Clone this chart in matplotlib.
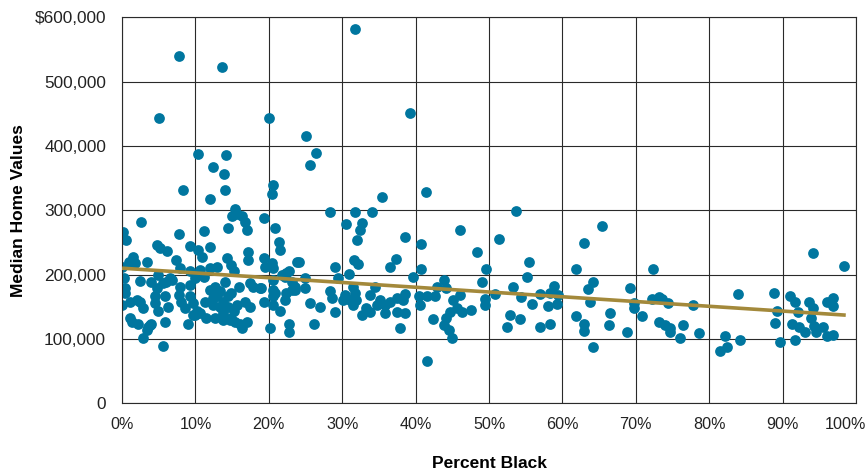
import matplotlib.pyplot as plt
import matplotlib.transforms as mtransforms

# share of Black residents (%) and median home value ($) per tract
pct_black = [
    7.8, 13.6, 5.0, 20.0, 10.3, 14.2, 12.4, 13.9, 8.3, 14.0, 20.5, 20.4, 12.0,
    15.4, 15.0, 15.6, 16.3, 16.8, 17.0, 14.5, 19.3, 20.8, 21.4, 21.5, 2.6, 0.1,
    0.5, 7.8, 11.2, 12.0, 9.3, 10.4, 10.9, 4.7, 5.2, 6.1, 17.1, 17.1, 14.3, 14.8,
    15.2, 7.4, 7.9, 19.3, 19.5, 20.4, 20.6, 23.8, 1.5, 1.8, 0.9, 0.0, 3.4, 12.9,
    12.0, 10.6, 9.3, 22.7, 22.2, 2.5, 0.2, 0.4, 4.9, 6.0, 6.5, 4.0, 4.7, 5.6, 6.8,
    7.9, 9.3, 9.9, 11.1, 12.7, 13.4, 14.0, 12.0, 15.9, 17.4, 17.9, 19.0, 20.6,
    20.8, 22.4, 22.2, 0.0, 1.1, 0.4, 2.0, 2.5, 2.9, 4.5, 4.9, 5.9, 6.3, 4.5, 7.7,
    8.1, 8.6, 9.3, 9.7, 10.2, 10.6, 9.7, 11.3, 12.4, 12.9, 12.4, 13.4, 13.8, 13.8,
    14.5, 15.2, 15.6, 14.5, 14.9, 16.8, 17.4, 19.3, 20.6, 21.5, 1.3, 2.2, 2.9, 3.6,
    4.0, 5.9, 5.6, 9.0, 9.9, 12.7, 13.8, 14.7, 15.4, 16.1, 16.3, 17.0, 11.5, 20.2,
    22.7, 22.7, 1.1, 3.8, 3.4, 14.9, 20.6, 23.1,
    25.0, 26.4, 25.6, 31.8, 39.3, 41.4, 35.4, 28.4, 31.8, 34.1, 30.5, 32.7, 32.4,
    32.0, 38.5, 40.7, 46.0, 48.4, 24.1, 29.0, 37.3, 36.5, 31.6, 32.2, 40.7, 39.7,
    30.9, 29.4, 43.8, 42.9, 44.2, 24.9, 23.6, 24.9, 23.1, 21.8, 22.4, 20.6, 18.8,
    23.6, 28.3, 28.6, 30.4, 31.7, 31.9, 31.1, 31.5, 30.1, 33.8, 34.5, 31.5, 35.1,
    35.8, 36.5, 37.4, 38.6, 38.3, 32.7, 33.8, 33.3, 35.8, 37.4, 38.6, 37.9, 34.7,
    29.0, 27.0, 25.6, 26.1, 40.4, 40.6, 41.5, 42.6, 42.4, 41.6, 43.8, 44.2, 44.7,
    44.6, 44.9, 45.1, 46.0, 46.3, 47.6, 45.6,
    53.7, 51.3, 62.9, 55.5, 61.9, 49.6, 55.2, 49.0, 53.3, 58.8, 58.3, 59.4, 56.9,
    50.8, 54.3, 55.8, 49.5, 49.5, 58.1, 59.2, 63.5, 64.2, 63.8, 52.9, 54.2, 52.5,
    56.9, 58.3, 61.8, 63.0, 63.0, 64.2, 65.4,
    66.5, 66.4, 72.3, 69.2, 69.8, 69.7, 70.8, 68.8, 72.2, 73.1, 73.6, 74.4, 77.8,
    73.1, 74.0, 74.7, 74.6, 76.4, 76.0, 78.6, 81.5, 82.4, 82.2, 84.2, 83.9, 88.8,
    89.2, 89.0, 89.6, 91.0, 91.7, 92.1, 91.3, 92.2, 93.0, 91.7, 93.6, 94.2, 93.9,
    94.3, 94.6, 95.5, 94.2, 98.4, 96.1, 96.8, 96.8, 96.0, 96.9,
]
home_value = [
    540000, 523000, 444000, 444000, 388000, 386000, 368000, 356000, 332000, 331000, 339000, 326000, 318000,
    302000, 291000, 295000, 291000, 282000, 270000, 273000, 288000, 273000, 250000, 238000, 282000, 266000,
    254000, 263000, 268000, 243000, 245000, 238000, 228000, 246000, 241000, 236000, 235000, 223000, 226000, 215000,
    205000, 223000, 210000, 226000, 212000, 218000, 210000, 220000, 228000, 218000, 220000, 212000, 220000, 212000,
    210000, 207000, 205000, 205000, 197000, 190000, 194000, 179000, 200000, 189000, 194000, 189000, 179000, 187000, 192000,
    181000, 184000, 194000, 197000, 181000, 174000, 189000, 176000, 181000, 187000, 181000, 179000, 176000,
    171000, 171000, 161000, 153000, 158000, 171000, 161000, 158000, 148000, 156000, 143000, 166000, 150000, 166000, 168000,
    158000, 148000, 166000, 156000, 143000, 140000, 137000, 158000, 153000, 166000, 163000, 150000, 140000, 158000,
    150000, 143000, 153000, 166000, 132000, 158000, 150000, 158000, 153000, 143000, 127000, 124000, 101000, 119000,
    124000, 127000, 89000, 124000, 137000, 132000, 130000, 129000, 127000, 124000, 117000, 127000, 132000, 117000,
    124000, 111000, 132000, 122000, 114000, 171000, 166000, 176000,
    416000, 389000, 370000, 582000, 452000, 328000, 320000, 298000, 298000, 298000, 278000, 280000, 270000,
    254000, 258000, 247000, 270000, 235000, 219000, 212000, 225000, 212000, 223000, 216000, 208000, 197000,
    201000, 194000, 191000, 181000, 179000, 194000, 181000, 179000, 189000, 200000, 202000, 192000, 179000,
    176000, 174000, 163000, 168000, 171000, 161000, 161000, 153000, 161000, 168000, 181000, 181000, 161000,
    153000, 158000, 163000, 170000, 161000, 137000, 142000, 148000, 140000, 142000, 141000, 117000, 153000,
    142000, 150000, 156000, 124000, 166000, 153000, 166000, 166000, 131000, 66000, 122000, 132000, 142000,
    114000, 102000, 161000, 168000, 142000, 145000, 148000,
    299000, 255000, 249000, 219000, 209000, 209000, 196000, 188000, 180000, 183000, 171000, 168000, 170000,
    170000, 165000, 154000, 162000, 153000, 152000, 154000, 177000, 188000, 158000, 137000, 131000, 118000,
    119000, 123000, 136000, 123000, 113000, 88000, 276000,
    140000, 121000, 209000, 179000, 156000, 148000, 135000, 111000, 162000, 165000, 162000, 156000, 153000,
    127000, 122000, 117000, 111000, 122000, 101000, 110000, 82000, 88000, 105000, 98000, 170000, 172000,
    144000, 125000, 96000, 167000, 158000, 142000, 124000, 118000, 111000, 99000, 157000, 148000, 132000,
    120000, 111000, 119000, 233000, 214000, 157000, 164000, 152000, 104000, 106000,
]

# fitted trend line end points
trend_x = [0.0, 98.6]
trend_y = [210000, 137000]

x_ticks = [0, 10, 20, 30, 40, 50, 60, 70, 80, 90, 100]
x_labels = ["0%", "10%", "20%", "30%", "40%", "50%", "60%", "70%", "80%", "90%", "100%"]
y_ticks = [0, 100000, 200000, 300000, 400000, 500000, 600000]
y_labels = ["0", "100,000", "200,000", "300,000", "400,000", "500,000", "$600,000"]

plt.rcParams["font.family"] = ["Liberation Sans", "DejaVu Sans"]

fig = plt.figure(figsize=(8.68, 4.73), dpi=100)
ax = fig.add_axes([0.1406, 0.1474, 0.8456, 0.816])

ax.scatter(pct_black, home_value, s=60, color="#00769f", linewidths=0, zorder=2)
ax.plot(trend_x, trend_y, color="#a3893b", linewidth=2.6, solid_capstyle="butt", zorder=3)

ax.set_xlim(0, 100)
ax.set_ylim(0, 600000)
ax.set_xticks(x_ticks)
ax.set_xticklabels(x_labels)
ax.set_yticks(y_ticks)
ax.set_yticklabels(y_labels)
ax.tick_params(axis="both", length=0, colors="#222222")
ax.tick_params(axis="y", pad=11.5, labelsize=12.4)
ax.tick_params(axis="x", pad=10, labelsize=11.6)

# keep the last x label inside the figure
last = ax.get_xticklabels()[-1]
last.set_horizontalalignment("right")
last.set_transform(last.get_transform() + mtransforms.ScaledTranslation(10 / 100, 0, fig.dpi_scale_trans))

ax.grid(True, color="#2a2a2a", linewidth=0.8, zorder=0)
ax.set_axisbelow(True)
for side in ax.spines.values():
    side.set_color("#2a2a2a")
    side.set_linewidth(0.8)

ax.set_xlabel("Percent Black", fontsize=12.5, fontweight="bold", labelpad=17)
ax.set_ylabel("Median Home Values", fontsize=12.5, fontweight="bold", labelpad=6)

plt.savefig("out.png", dpi=100)
